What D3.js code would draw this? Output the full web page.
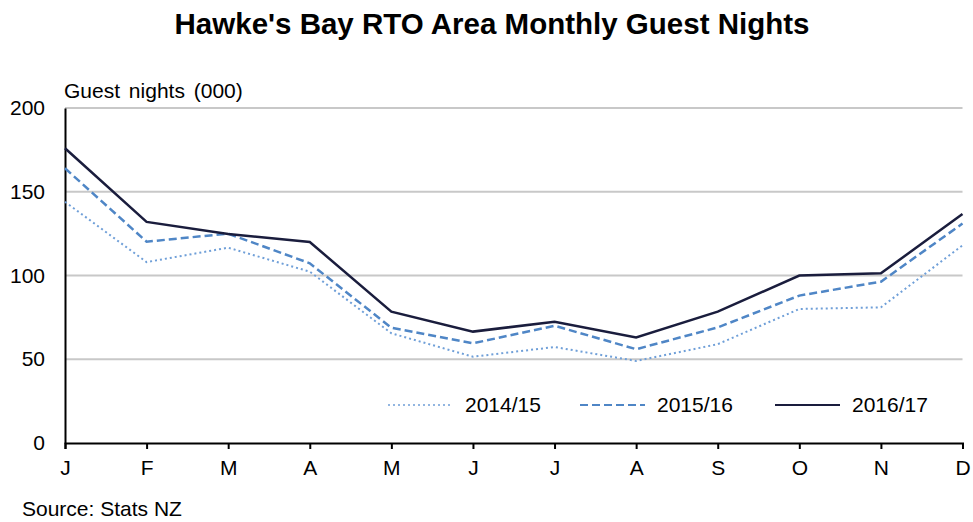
<!DOCTYPE html>
<html>
<head>
<meta charset="utf-8">
<script src="https://cdn.jsdelivr.net/npm/d3@7"></script>
<style>
  body { margin: 0; background: #fff; }
  svg { font-family: "Liberation Sans", Arial, sans-serif; }
</style>
</head>
<body>
<div id="vis"></div>
<script>
const FRAME_WIDTH = 973;
const FRAME_HEIGHT = 522;
const MARGINS = {left: 65, right: 10, top: 108, bottom: 79};

const VIS_WIDTH = 962.5 - MARGINS.left;
const VIS_HEIGHT = 443 - MARGINS.top;

// data (thousands of guest nights)
const months = ["J", "F", "M", "A", "M", "J", "J", "A", "S", "O", "N", "D"];
const s2014 = [144, 108, 116.6, 102.3, 65.5, 51.5, 57.3, 49, 59, 80, 81, 118];
const s2015 = [164, 120.2, 125, 107.3, 68.8, 59.5, 70, 56, 69, 88, 96.3, 131];
const s2016 = [176, 132, 124.8, 120, 78.4, 66.5, 72.4, 63, 78.4, 100, 101.3, 136.7];
const seriesNames = ["2014/15", "2015/16", "2016/17"];
const yTicks = [0, 50, 100, 150, 200];

const FONT = "Liberation Sans, Arial, sans-serif";

const FRAME = d3.select("#vis")
                .append("svg")
                  .attr("width", FRAME_WIDTH)
                  .attr("height", FRAME_HEIGHT);

const X_SCALE = d3.scaleLinear()
                  .domain([0, months.length - 1])
                  .range([0, VIS_WIDTH]);

const Y_SCALE = d3.scaleLinear()
                  .domain([0, 200])
                  .range([VIS_HEIGHT, 0]);

const G = FRAME.append("g")
               .attr("transform", "translate(" + MARGINS.left + "," + MARGINS.top + ")");

// gridlines
G.selectAll(".grid")
  .data(yTicks.filter(d => d > 0))
  .enter()
  .append("line")
    .attr("x1", 0)
    .attr("x2", VIS_WIDTH)
    .attr("y1", d => Y_SCALE(d))
    .attr("y2", d => Y_SCALE(d))
    .attr("stroke", "#c8c8c8")
    .attr("stroke-width", 2);

// y axis
const yAxis = G.append("g")
  .call(d3.axisLeft(Y_SCALE).tickValues(yTicks).tickSize(0).tickPadding(20));
yAxis.select(".domain").attr("stroke", "#000").attr("stroke-width", 2);
yAxis.selectAll("text").attr("font-size", "21px").attr("fill", "#000")
  .attr("font-family", FONT);

// x axis
const xAxis = G.append("g")
  .attr("transform", "translate(0," + VIS_HEIGHT + ")")
  .call(d3.axisBottom(X_SCALE).ticks(12).tickFormat(i => months[i]).tickSizeOuter(0).tickSize(6).tickPadding(11));
xAxis.select(".domain").attr("stroke", "#000").attr("stroke-width", 2);
xAxis.selectAll(".tick line").attr("stroke", "#000").attr("stroke-width", 2);
xAxis.selectAll("text").attr("font-size", "21px").attr("fill", "#000")
  .attr("font-family", FONT);

// lines
const styles = [
  {data: s2014, color: "#6f9fd8", width: 2, dash: "2,3"},
  {data: s2015, color: "#4f86c6", width: 2.5, dash: "8,4"},
  {data: s2016, color: "#1a1d3d", width: 2.5, dash: null}
];

const LINE = d3.line()
               .x((d, i) => X_SCALE(i))
               .y(d => Y_SCALE(d));

styles.forEach(s => {
  G.append("path")
    .datum(s.data)
    .attr("d", LINE)
    .attr("fill", "none")
    .attr("stroke", s.color)
    .attr("stroke-width", s.width)
    .attr("stroke-dasharray", s.dash);
});

// legend
const legendX = [388, 580, 775];
styles.forEach((s, i) => {
  FRAME.append("line")
    .attr("x1", legendX[i])
    .attr("x2", legendX[i] + 65)
    .attr("y1", 405)
    .attr("y2", 405)
    .attr("stroke", s.color)
    .attr("stroke-width", s.width - 0.5)
    .attr("stroke-dasharray", s.dash);
  FRAME.append("text")
    .attr("x", legendX[i] + 77)
    .attr("y", 412)
    .attr("font-size", "21px")
    .text(seriesNames[i]);
});

// title, axis label, source
FRAME.append("text")
  .attr("x", 492)
  .attr("y", 34)
  .attr("text-anchor", "middle")
  .attr("font-size", "29.5px")
  .attr("font-weight", "bold")
  .text("Hawke's Bay RTO Area Monthly Guest Nights");

FRAME.append("text")
  .attr("x", 64)
  .attr("y", 98)
  .attr("font-size", "21px")
  .attr("word-spacing", "3px")
  .text("Guest nights (000)");

FRAME.append("text")
  .attr("x", 22)
  .attr("y", 516)
  .attr("font-size", "21px")
  .text("Source: Stats NZ");
</script>
</body>
</html>
